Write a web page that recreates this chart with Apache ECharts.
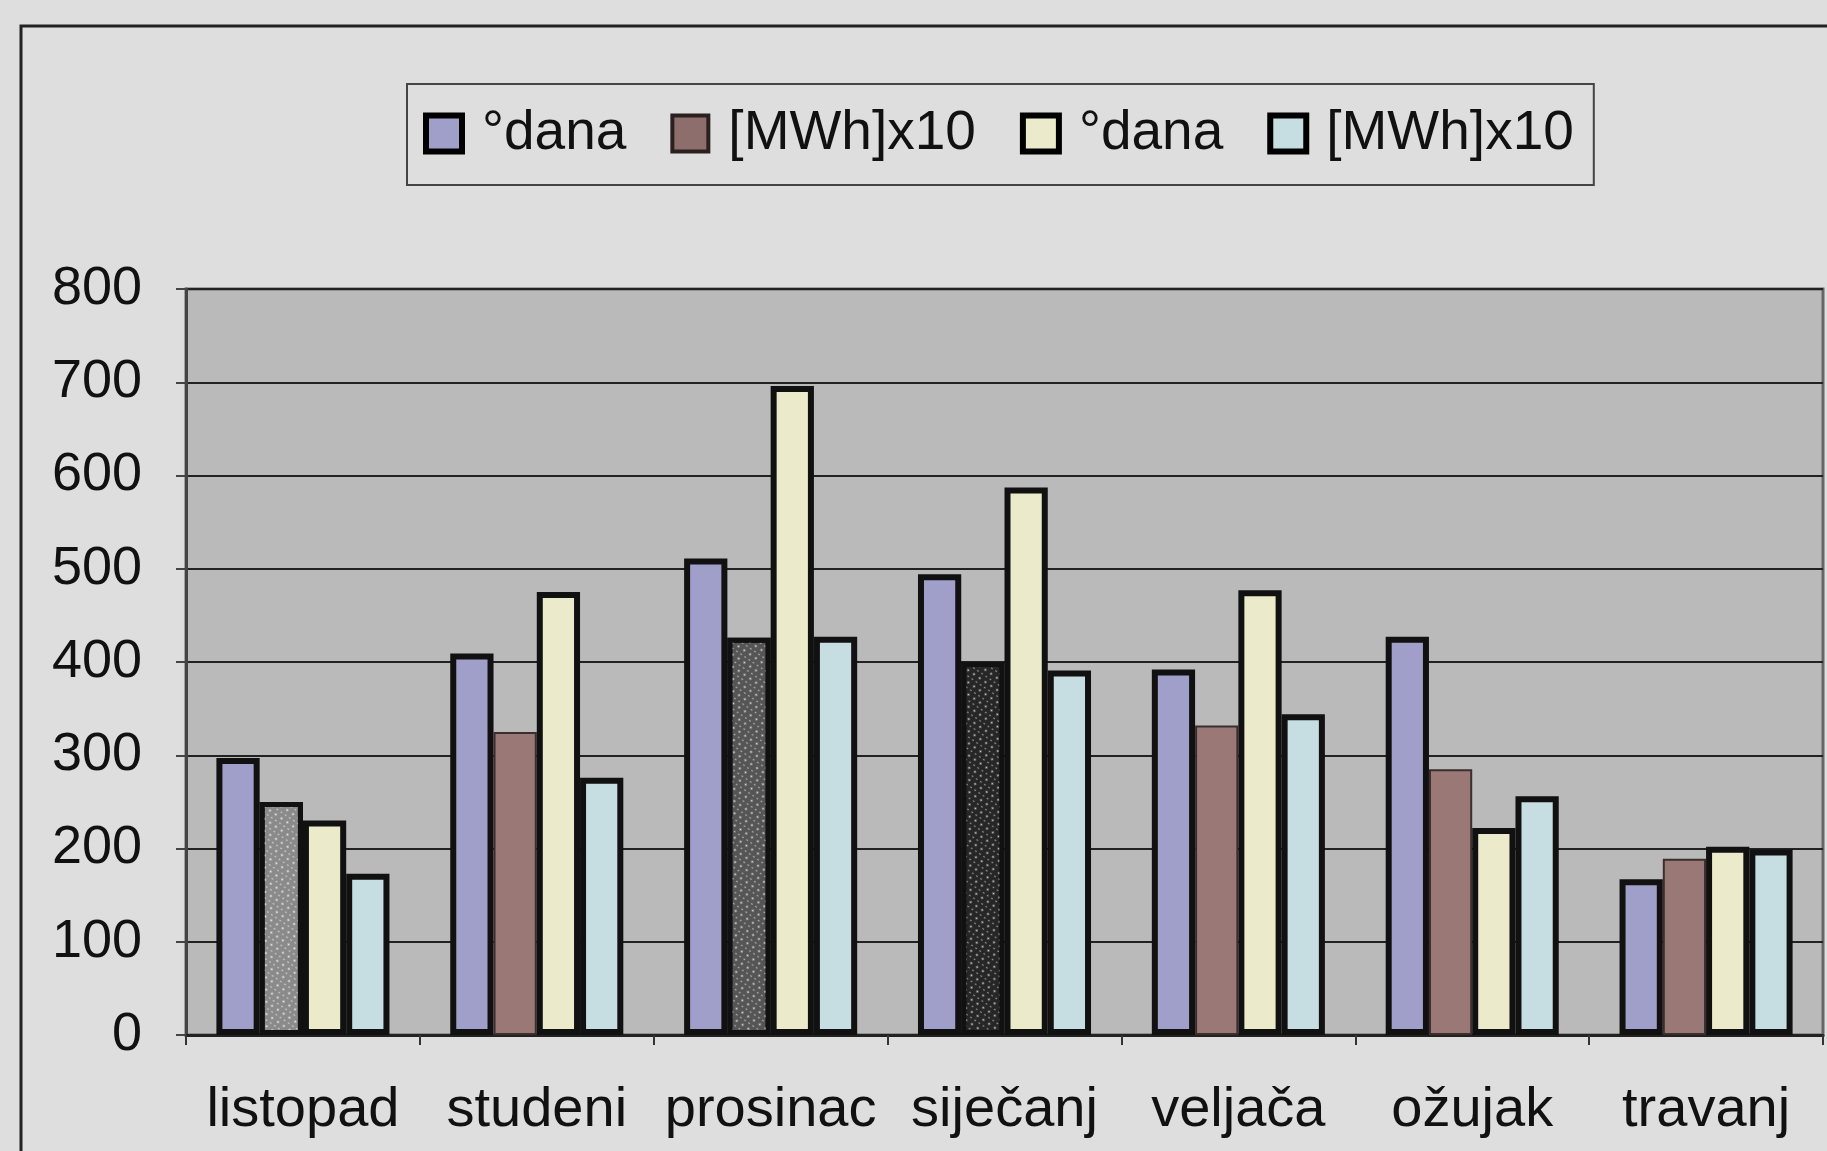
<!DOCTYPE html>
<html>
<head>
<meta charset="utf-8">
<script src="https://cdn.jsdelivr.net/npm/echarts@6/dist/echarts.min.js"></script>
<style>
html,body{margin:0;padding:0;background:#dedede;}
#chart{width:1827px;height:1151px;}
</style>
</head>
<body>
<div id="chart"></div>
<script>
const categories = ['listopad', 'studeni', 'prosinac', 'siječanj', 'veljača', 'ožujak', 'travanj'];
const seriesNames = ['°dana#1', '[MWh]x10#1', '°dana#2', '[MWh]x10#2'];
const dana1 = [297, 409, 511, 494, 392, 427, 167];
const mwh1 = [250, 325, 426, 400, 332, 285, 189];
const dana2 = [230, 475, 696, 587, 477, 222, 202];
const mwh2 = [173, 276, 427, 391, 344, 256, 199];
const yTicks = { min: 0, max: 800, interval: 100 };
const patternedIdx = [0, 2, 3];

const FONT = "'Liberation Sans', Arial, sans-serif";
const chart = echarts.init(document.getElementById('chart'));

const patternFill = [
  { color: '#8a8a8a', decal: '#f0f0f0' },
  null,
  { color: '#555555', decal: '#dddddd' },
  { color: '#262626', decal: '#cfcfcf' }
];

const mwh1Data = mwh1.map((v, i) => {
  if (patternedIdx.indexOf(i) >= 0) {
    const p = patternFill[i];
    return {
      value: v,
      itemStyle: {
        color: p.color,
        borderColor: '#111',
        borderWidth: 5,
        decal: {
          symbol: 'circle',
          symbolSize: 0.7,
          color: p.decal,
          dashArrayX: [[3, 4], [2, 3]],
          dashArrayY: [3, 2],
          rotation: 0.6
        }
      }
    };
  }
  return { value: v };
});

const barBase = {
  type: 'bar',
  barGap: '0%',
  barCategoryGap: '26%'
};

chart.setOption({
  backgroundColor: '#dedede',
  animation: false,
  textStyle: { fontFamily: FONT },
  graphic: [{
    type: 'rect',
    z: -1,
    shape: { x: 21, y: 26, width: 2000, height: 2000 },
    style: { fill: 'none', stroke: '#222', lineWidth: 3 }
  }],
  legend: {
    left: 407,
    top: 84,
    icon: 'rect',
    padding: [22, 20, 24, 16],
    itemGap: 44,
    itemWidth: 36,
    itemHeight: 36,
    borderColor: '#444',
    borderWidth: 2,
    formatter: name => name.split('#')[0],
    textStyle: { fontSize: 55, color: '#111', fontFamily: FONT, padding: [0, 0, 0, 15] },
    data: seriesNames.map((n, i) => ({
      name: n,
      itemStyle: i === 1
        ? { color: '#8e6e6c', borderColor: '#2a2020', borderWidth: 4, decal: 'none' }
        : { borderColor: '#000', borderWidth: 6 }
    }))
  },
  grid: {
    left: 186, right: 4, top: 289, bottom: 116,
    show: true,
    backgroundColor: '#bababa',
    borderColor: '#666',
    borderWidth: 3
  },
  xAxis: {
    type: 'category',
    data: categories,
    axisLine: { lineStyle: { color: '#222', width: 3 } },
    axisTick: { show: true, length: 10, lineStyle: { color: '#333', width: 2 } },
    axisLabel: { interval: 0, fontSize: 56, color: '#111', margin: 48, fontFamily: FONT }
  },
  yAxis: {
    type: 'value',
    min: yTicks.min,
    max: yTicks.max,
    interval: yTicks.interval,
    axisLine: { show: true, lineStyle: { color: '#444', width: 3 } },
    axisTick: { show: true, length: 10, lineStyle: { color: '#444', width: 2 } },
    axisLabel: { fontSize: 54, color: '#111', margin: 44, fontFamily: FONT },
    splitLine: { lineStyle: { color: '#222', width: 2 } }
  },
  series: [
    Object.assign({}, barBase, {
      name: seriesNames[0], data: dana1,
      itemStyle: { color: '#a09fc9', borderColor: '#111', borderWidth: 6 }
    }),
    Object.assign({}, barBase, {
      name: seriesNames[1], data: mwh1Data,
      itemStyle: { color: '#9a7876', borderColor: '#3a2e2e', borderWidth: 2 }
    }),
    Object.assign({}, barBase, {
      name: seriesNames[2], data: dana2,
      itemStyle: { color: '#ebeacb', borderColor: '#111', borderWidth: 6 }
    }),
    Object.assign({}, barBase, {
      name: seriesNames[3], data: mwh2,
      itemStyle: { color: '#c6dde2', borderColor: '#111', borderWidth: 6 }
    })
  ]
});
</script>
</body>
</html>
